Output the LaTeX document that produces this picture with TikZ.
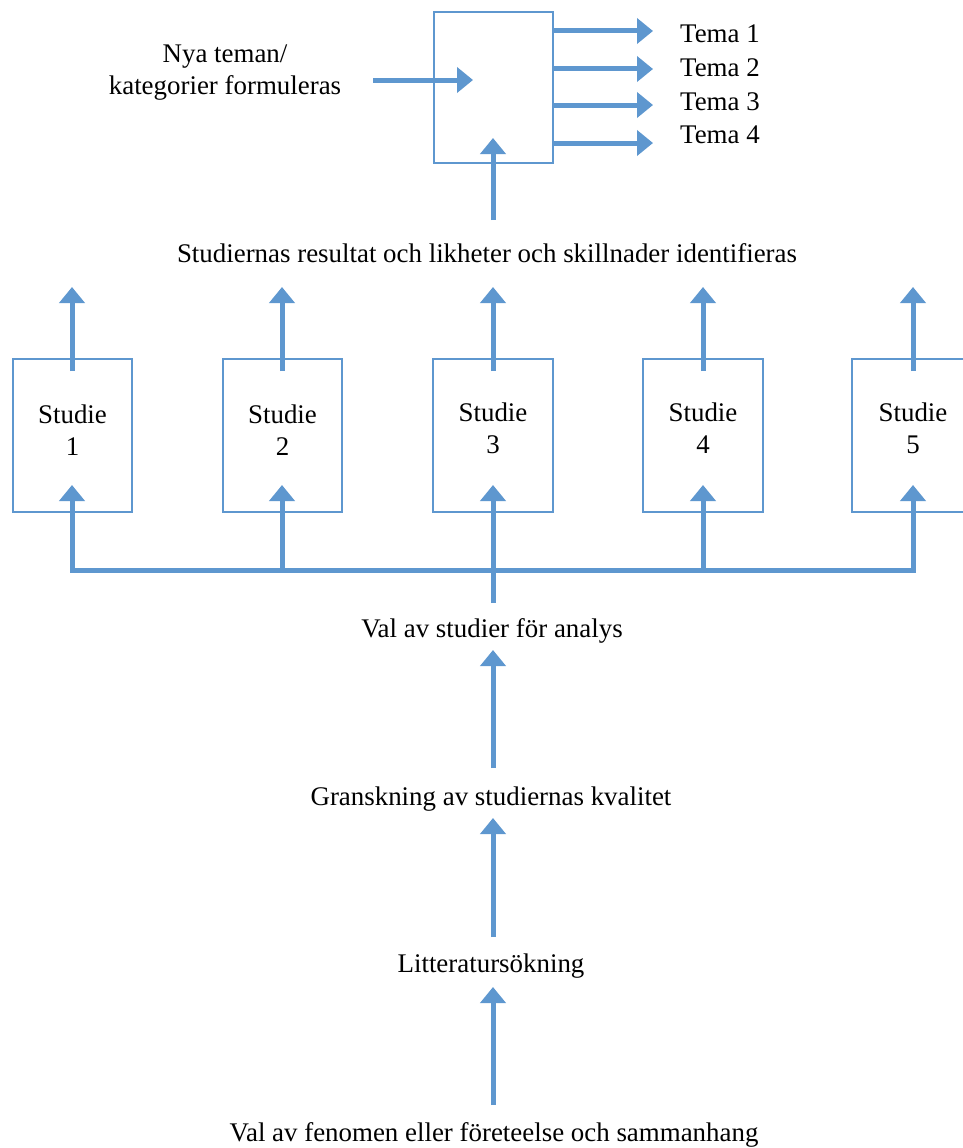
\documentclass[tikz,border=0pt]{standalone}
\usepackage{fontspec}
\setmainfont{Liberation Serif}
\usetikzlibrary{arrows.meta}
\definecolor{acc}{RGB}{94,151,207}
\begin{document}
\begin{tikzpicture}[x=1pt,y=-1pt,
  box/.style={draw=acc, line width=1.3pt, fill=white, inner sep=0pt},
  conn/.style={draw=acc, line width=5pt, -{Triangle[width=25pt,length=16pt]}},
  bar/.style={draw=acc, line width=5pt, line cap=rect},
  lbl/.style={inner sep=0pt, font=\fontsize{26.9}{32}\selectfont, align=center},
]
\useasboundingbox (0,0) rectangle (963,1148);
\begin{scope}
\clip (0,0) rectangle (963,1148);
% top process box
\node[box, minimum width=119pt, minimum height=151pt] (proc) at (493.5,87.5) {};
% study boxes
\node[box, minimum width=119pt, minimum height=153pt] (s1) at (72.5,435.5) {};
\node[box, minimum width=119pt, minimum height=153pt] (s2) at (282.5,435.5) {};
\node[box, minimum width=120pt, minimum height=153pt] (s3) at (493,435.5) {};
\node[box, minimum width=120pt, minimum height=153pt] (s4) at (703,435.5) {};
\node[box, minimum width=122pt, minimum height=153pt] (s5) at (913,435.5) {};
\end{scope}
% study labels
\node[lbl] (l1) at (72.5,430) {Studie\\1};
\node[lbl] (l2) at (282.5,430) {Studie\\2};
\node[lbl] (l3) at (493,428) {Studie\\3};
\node[lbl] (l4) at (703,428) {Studie\\4};
\node[lbl] (l5) at (913,428) {Studie\\5};
% texts
\node[lbl] (nya) at (225,73) {Nya teman/\\kategorier formuleras};
\node[lbl, anchor=base west] (t1) at (680,43) {Tema 1};
\node[lbl, anchor=base west] (t2) at (680,77) {Tema 2};
\node[lbl, anchor=base west] (t3) at (680,110) {Tema 3};
\node[lbl, anchor=base west] (t4) at (680,143) {Tema 4};
\node[lbl, anchor=base] (res) at (487,262) {Studiernas resultat och likheter och skillnader identifieras};
\node[lbl, anchor=base] (val) at (492,637) {Val av studier för analys};
\node[lbl, anchor=base] (gran) at (491,805) {Granskning av studiernas kvalitet};
\node[lbl, anchor=base] (lit) at (491,972) {Litteratursökning};
\node[lbl, anchor=base] (fen) at (494,1141) {Val av fenomen eller företeelse och sammanhang};
% coordinates
\coordinate (r1) at (653,31);
\coordinate (r2) at (653,69);
\coordinate (r3) at (653,105);
\coordinate (r4) at (653,143);
\coordinate (inL) at (373,80);
\coordinate (inT) at (473,80);
\coordinate (upS) at (493,220);
\coordinate (upT) at (493,138);
\coordinate (barL) at (72,570);
\coordinate (barR) at (913,570);
\coordinate (valtop) at (493,603);
% top box arrows
\draw[conn] (proc.east |- r1) -- (r1);
\draw[conn] (proc.east |- r2) -- (r2);
\draw[conn] (proc.east |- r3) -- (r3);
\draw[conn] (proc.east |- r4) -- (r4);
\draw[conn] (inL) -- (inT);
\draw[conn] (upS) -- (upT);
% study up arrows
\foreach \s/\x in {s1/72,s2/282,s3/493,s4/703,s5/913}{
  \draw[conn] (\x,371) -- (\x,287);
}
% bar
\draw[bar] (barL) -- (barR);
\foreach \x in {72,282,703,913}{
  \draw[conn] (\x,570) -- (\x,485);
}
\draw[conn] (valtop) -- (493,485);
% chain
\draw[conn] (493,768) -- (493,650);
\draw[conn] (493,937) -- (493,818);
\draw[conn] (493,1105) -- (493,987);
\end{tikzpicture}
\end{document}
